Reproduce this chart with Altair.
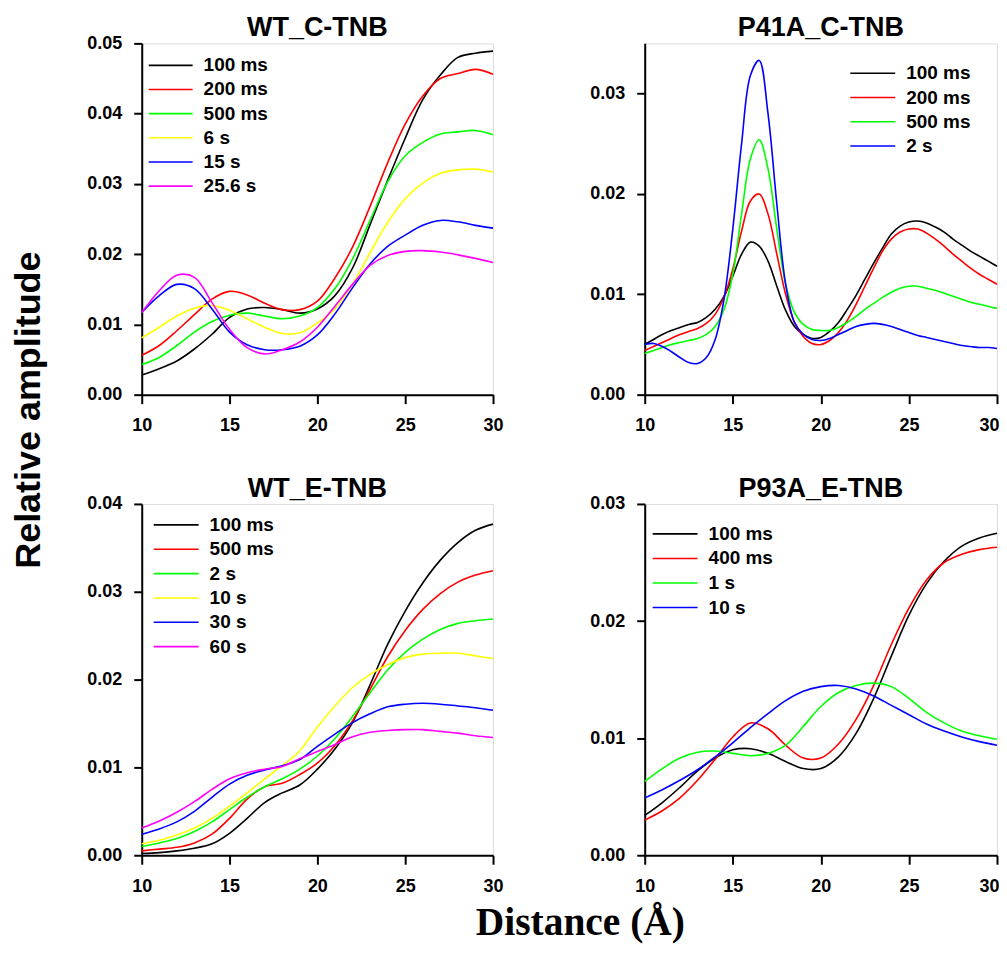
import altair as alt
import pandas as pd

# ---------------- data ----------------
X1 = list(range(10, 31))
WT_C_LABELS = ["100 ms", "200 ms", "500 ms", "6 s", "15 s", "25.6 s"]
WT_C_100ms = [0.0028, 0.0037, 0.0048, 0.0065, 0.0086, 0.0110, 0.0122, 0.0124, 0.0121, 0.0116, 0.0122,
              0.0141, 0.0180, 0.0242, 0.0305, 0.0365, 0.0420, 0.0455, 0.0480, 0.0486, 0.0489]
WT_C_200ms = [0.0056, 0.0070, 0.0091, 0.0114, 0.0136, 0.0147, 0.0142, 0.0130, 0.0121, 0.0121, 0.0133,
              0.0166, 0.0210, 0.0268, 0.0330, 0.0385, 0.0425, 0.0450, 0.0457, 0.0463, 0.0456]
WT_C_500ms = [0.0043, 0.0053, 0.0070, 0.0089, 0.0104, 0.0113, 0.0116, 0.0112, 0.0108, 0.0112, 0.0124,
              0.0151, 0.0193, 0.0248, 0.0303, 0.0340, 0.0359, 0.0371, 0.0374, 0.0376, 0.0370]
WT_C_6s = [0.0081, 0.0096, 0.0112, 0.0123, 0.0127, 0.0120, 0.0108, 0.0096, 0.0087, 0.0088, 0.0102,
           0.0122, 0.0157, 0.0202, 0.0245, 0.0279, 0.0301, 0.0315, 0.0320, 0.0321, 0.0317]
WT_C_15s = [0.0117, 0.0141, 0.0157, 0.0151, 0.0122, 0.0089, 0.0071, 0.0064, 0.0064, 0.0069, 0.0085,
            0.0115, 0.0152, 0.0186, 0.0211, 0.0227, 0.0241, 0.0248, 0.0246, 0.0241, 0.0237]
WT_C_25s = [0.0117, 0.0148, 0.0170, 0.0167, 0.0131, 0.0093, 0.0067, 0.0058, 0.0064, 0.0075, 0.0096,
            0.0126, 0.0157, 0.0184, 0.0198, 0.0204, 0.0205, 0.0203, 0.0199, 0.0194, 0.0188]

X2 = [10 + 0.5 * i for i in range(41)]
P41_LABELS = ["100 ms", "200 ms", "500 ms", "2 s"]
P41_100ms = [0.0050, 0.0055, 0.0060, 0.0064, 0.0067, 0.0070, 0.0072, 0.0077, 0.0085, 0.0098, 0.0118,
             0.0140, 0.0152, 0.0148, 0.0133, 0.0108, 0.0084, 0.0068, 0.0060, 0.0056, 0.0057,
             0.0063, 0.0072, 0.0085, 0.0099, 0.0115, 0.0131, 0.0146, 0.0160, 0.0168, 0.0172,
             0.0173, 0.0171, 0.0167, 0.0162, 0.0155, 0.0149, 0.0143, 0.0138, 0.0133, 0.0128]
P41_200ms = [0.0044, 0.0048, 0.0052, 0.0056, 0.0060, 0.0063, 0.0066, 0.0071, 0.0080, 0.0097, 0.0125,
             0.0163, 0.0193, 0.0200, 0.0180, 0.0140, 0.0100, 0.0072, 0.0058, 0.0051, 0.0050,
             0.0054, 0.0062, 0.0074, 0.0090, 0.0108, 0.0126, 0.0143, 0.0155, 0.0162, 0.0165,
             0.0165, 0.0161, 0.0155, 0.0148, 0.0140, 0.0133, 0.0126, 0.0120, 0.0115, 0.0110]
P41_500ms = [0.0041, 0.0044, 0.0047, 0.0050, 0.0052, 0.0054, 0.0056, 0.0060, 0.0068, 0.0085, 0.0120,
             0.0180, 0.0235, 0.0254, 0.0225, 0.0165, 0.0110, 0.0082, 0.0070, 0.0065, 0.0064,
             0.0064, 0.0067, 0.0072, 0.0078, 0.0085, 0.0091, 0.0097, 0.0102, 0.0106, 0.0108,
             0.0108, 0.0106, 0.0104, 0.0101, 0.0098, 0.0095, 0.0092, 0.0090, 0.0088, 0.0086]
P41_2s = [0.0050, 0.0051, 0.0048, 0.0043, 0.0037, 0.0032, 0.0031, 0.0037, 0.0055, 0.0095, 0.0165,
          0.0250, 0.0318, 0.0333, 0.0280, 0.0190, 0.0110, 0.0072, 0.0060, 0.0055, 0.0054,
          0.0056, 0.0060, 0.0064, 0.0068, 0.0070, 0.0071, 0.0070, 0.0068, 0.0065, 0.0062,
          0.0059, 0.0057, 0.0055, 0.0053, 0.0051, 0.0049, 0.0048, 0.0047, 0.0047, 0.0046]

X3 = list(range(10, 31))
WT_E_LABELS = ["100 ms", "500 ms", "2 s", "10 s", "30 s", "60 s"]
WT_E_100ms = [0.0002, 0.0003, 0.0005, 0.0008, 0.0013, 0.0025, 0.0042, 0.0060, 0.0071, 0.0080, 0.0098,
              0.0121, 0.0151, 0.0194, 0.0240, 0.0278, 0.0310, 0.0336, 0.0356, 0.0370, 0.0377]
WT_E_500ms = [0.0005, 0.0007, 0.0009, 0.0014, 0.0024, 0.0042, 0.0064, 0.0078, 0.0082, 0.0092, 0.0105,
              0.0125, 0.0153, 0.0189, 0.0226, 0.0256, 0.0280, 0.0298, 0.0311, 0.0319, 0.0324]
WT_E_2s = [0.0010, 0.0014, 0.0019, 0.0027, 0.0038, 0.0052, 0.0066, 0.0078, 0.0087, 0.0098, 0.0113,
           0.0133, 0.0158, 0.0185, 0.0211, 0.0231, 0.0246, 0.0257, 0.0264, 0.0267, 0.0269]
WT_E_10s = [0.0013, 0.0017, 0.0023, 0.0031, 0.0042, 0.0056, 0.0071, 0.0087, 0.0102, 0.0119, 0.0146,
            0.0170, 0.0191, 0.0206, 0.0217, 0.0225, 0.0229, 0.0230, 0.0230, 0.0227, 0.0224]
WT_E_30s = [0.0024, 0.0030, 0.0038, 0.0050, 0.0066, 0.0081, 0.0091, 0.0097, 0.0102, 0.0109, 0.0124,
            0.0138, 0.0151, 0.0161, 0.0169, 0.0172, 0.0173, 0.0172, 0.0170, 0.0168, 0.0165]
WT_E_60s = [0.0031, 0.0039, 0.0049, 0.0061, 0.0075, 0.0087, 0.0094, 0.0098, 0.0101, 0.0110, 0.0118,
            0.0126, 0.0135, 0.0140, 0.0142, 0.0143, 0.0143, 0.0141, 0.0139, 0.0136, 0.0134]

X4 = list(range(10, 31))
P93_LABELS = ["100 ms", "400 ms", "1 s", "10 s"]
P93_100ms = [0.0034, 0.0045, 0.0058, 0.0072, 0.0083, 0.0090, 0.0091, 0.0087, 0.0080, 0.0074, 0.0074,
             0.0084, 0.0104, 0.0134, 0.0170, 0.0205, 0.0232, 0.0251, 0.0264, 0.0271, 0.0275]
P93_400ms = [0.0030, 0.0038, 0.0049, 0.0064, 0.0082, 0.0101, 0.0113, 0.0108, 0.0094, 0.0083, 0.0083,
             0.0095, 0.0116, 0.0145, 0.0180, 0.0211, 0.0235, 0.0250, 0.0257, 0.0261, 0.0263]
P93_1s = [0.0063, 0.0074, 0.0083, 0.0088, 0.0089, 0.0087, 0.0085, 0.0087, 0.0094, 0.0110, 0.0127,
          0.0139, 0.0145, 0.0147, 0.0144, 0.0134, 0.0122, 0.0113, 0.0106, 0.0102, 0.0099]
P93_10s = [0.0049, 0.0056, 0.0064, 0.0073, 0.0084, 0.0096, 0.0109, 0.0121, 0.0132, 0.0140, 0.0144,
           0.0145, 0.0142, 0.0136, 0.0128, 0.0120, 0.0112, 0.0106, 0.0101, 0.0097, 0.0094]

X_TICKS = [10, 15, 20, 25, 30]

# ---------------- style ----------------
FONT = "Liberation Sans"
BLACK, RED, GREEN, YELLOW, BLUE, MAGENTA = "#000000", "#FF0000", "#00FF00", "#FFFF00", "#0000FF", "#FF00FF"
W_LEFT, W_RIGHT, H = 352, 353, 352


def panel(title, xs, labels, series, colors, ydom, yticks, leg, w, h, extra=(), last_shift=0):
    rows = []
    for lab, vals in zip(labels, series):
        for x, v in zip(xs, vals):
            rows.append({"x": x, "y": v, "s": lab})
    df = pd.DataFrame(rows)
    cscale = alt.Scale(domain=labels, range=colors)
    xaxis = alt.Axis(values=X_TICKS, title=None, format="d")
    if last_shift:
        xaxis = alt.Axis(values=X_TICKS, title=None, format="d",
                         labelOffset={"condition": {"test": "datum.value == 30", "value": last_shift},
                                      "value": 0})
    lines = alt.Chart(df).mark_line(strokeWidth=1.6, interpolate="catmull-rom").encode(
        x=alt.X("x:Q", scale=alt.Scale(domain=[10, 30], nice=False, zero=False), axis=xaxis),
        y=alt.Y("y:Q", scale=alt.Scale(domain=ydom, nice=False, zero=True),
                axis=alt.Axis(values=yticks, format=".2f", title=None)),
        color=alt.Color("s:N", scale=cscale, legend=None),
    )
    n = len(labels)
    ldf = pd.DataFrame({"s": labels, "r": list(range(n))})
    x0, x1, tx, y0, dy = leg
    ly = alt.Y("r:Q", scale=alt.Scale(domain=[0, n - 1], range=[y0, y0 + (n - 1) * dy],
                                      nice=False, zero=False), axis=None)
    lrule = alt.Chart(ldf).mark_rule(strokeWidth=1.6).encode(
        x=alt.value(x0), x2=alt.value(x1), y=ly,
        color=alt.Color("s:N", scale=cscale, legend=None))
    ltext = alt.Chart(ldf).mark_text(align="left", baseline="middle", font=FONT, fontSize=19,
                                     fontWeight="bold", color="black").encode(
        x=alt.value(tx), y=ly, text="s:N")
    ttl = alt.Chart(pd.DataFrame({"t": [title]})).mark_text(
        align="center", baseline="alphabetic", font=FONT, fontSize=27, fontWeight="bold",
        color="black").encode(x=alt.value(w / 2), y=alt.value(-7), text="t:N")
    return alt.layer(lines, lrule, ltext, ttl, *extra).resolve_scale(y="independent").properties(
        width=w, height=h)


ytitle = alt.Chart(pd.DataFrame({"t": ["Relative amplitude"]})).mark_text(
    align="center", baseline="middle", angle=270, font=FONT, fontSize=36, fontWeight="bold",
    color="black").encode(x=alt.value(-113), y=alt.value(367.5), text="t:N")
xtitle = alt.Chart(pd.DataFrame({"t": ["Distance (Å)"]})).mark_text(
    align="center", baseline="alphabetic", font="Liberation Serif", fontSize=39.5, fontWeight="bold",
    color="black").encode(x=alt.value(439.5), y=alt.value(432), text="t:N")

p1 = panel("WT_C-TNB", X1, WT_C_LABELS,
           [WT_C_100ms, WT_C_200ms, WT_C_500ms, WT_C_6s, WT_C_15s, WT_C_25s],
           [BLACK, RED, GREEN, YELLOW, BLUE, MAGENTA], [0, 0.05], [0, 0.01, 0.02, 0.03, 0.04, 0.05],
           (7, 51, 62, 22, 24.2), W_LEFT, H, extra=(ytitle,))
p2 = panel("P41A_C-TNB", X2, P41_LABELS, [P41_100ms, P41_200ms, P41_500ms, P41_2s],
           [BLACK, RED, GREEN, BLUE], [0, 0.035], [0, 0.01, 0.02, 0.03],
           (206, 251, 262, 30, 24.3), W_RIGHT, H, last_shift=-8)
p3 = panel("WT_E-TNB", X3, WT_E_LABELS,
           [WT_E_100ms, WT_E_500ms, WT_E_2s, WT_E_10s, WT_E_30s, WT_E_60s],
           [BLACK, RED, GREEN, YELLOW, BLUE, MAGENTA], [0, 0.04], [0, 0.01, 0.02, 0.03, 0.04],
           (12, 57, 68, 21, 24.4), W_LEFT, H, extra=(xtitle,))
p4 = panel("P93A_E-TNB", X4, P93_LABELS, [P93_100ms, P93_400ms, P93_1s, P93_10s],
           [BLACK, RED, GREEN, BLUE], [0, 0.03], [0, 0.01, 0.02, 0.03],
           (8, 53, 64, 30, 24.6), W_RIGHT, H, last_shift=-8)

chart = alt.concat(
    p1, p2, p3, p4, columns=2, spacing={"row": 109.5, "column": 152}, bounds="flush"
).resolve_scale(
    color="independent"
).properties(
    padding={"left": 2, "top": 4.5, "right": -2, "bottom": 0}
).configure_view(stroke=None).configure(background="white").configure_axis(
    domainColor="black", domainWidth=2, tickColor="black", tickWidth=2, tickSize=8,
    labelFont=FONT, labelFontSize=18, labelFontWeight="bold", labelColor="black",
    labelPadding=12, labelFlush=False, grid=False
).configure_axisX(tickSize=9, labelPadding=13)

chart.save("out.html", embed_options={"renderer": "svg", "actions": False})
